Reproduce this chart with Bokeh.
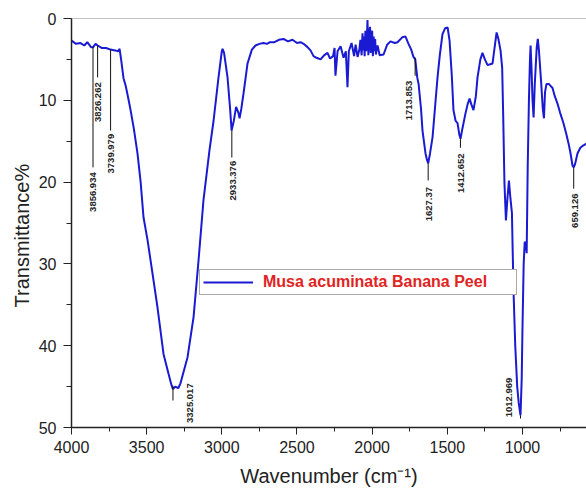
import math
from bokeh.plotting import figure
from bokeh.models import (Range1d, SingleIntervalTicker, Span, Title, Legend,
                          LegendItem, ColumnDataSource)
from bokeh.core.properties import value
from bokeh.embed import file_html
from bokeh.resources import INLINE

# ---- spectrum (wavenumber cm-1, transmittance %) ----
wavenumber = [
    4000, 3970, 3940, 3915, 3895, 3870, 3856, 3840, 3826, 3800, 3770, 3740, 3710,
    3690, 3680, 3670, 3654, 3640, 3625, 3607, 3585, 3561, 3540, 3521, 3494, 3461,
    3428, 3388, 3355, 3335, 3325, 3310, 3290, 3275, 3228, 3188, 3155, 3122, 3082,
    3055, 3022, 3000, 2995, 2985, 2962, 2945, 2935, 2920, 2905, 2890, 2882, 2870,
    2856, 2840, 2829, 2800, 2776, 2750, 2723, 2700, 2680, 2650, 2620, 2590, 2560,
    2530, 2500, 2476, 2456, 2430, 2410, 2390, 2370, 2343, 2320, 2297, 2280, 2260,
    2250, 2244, 2230, 2210, 2190, 2175, 2164, 2155, 2137, 2120, 2110, 2097, 2085,
    2078, 2070, 2064, 2060, 2055, 2050, 2045, 2040, 2035, 2031, 2025, 2021, 2018,
    2014, 2010, 2005, 2000, 1995, 1990, 1985, 1980, 1975, 1970, 1964,
    1950, 1924, 1900, 1878, 1850, 1831, 1800, 1778, 1765, 1758, 1740, 1725, 1713,
    1700, 1691, 1675, 1665, 1645, 1635, 1627, 1615, 1598, 1580, 1565, 1550, 1532,
    1515, 1498, 1485, 1470, 1459, 1445, 1432, 1420, 1412, 1400, 1379, 1365, 1352,
    1340, 1326, 1310, 1299, 1280, 1266, 1250, 1232, 1215, 1199, 1185, 1172, 1160,
    1146, 1135, 1128, 1120, 1110, 1100, 1090, 1080, 1070, 1060, 1048, 1035, 1025,
    1013, 1005, 1000, 992, 985, 978, 972, 965, 957, 950, 946, 940, 933, 926, 918,
    905, 898, 890, 875, 865, 857, 850, 840, 825, 810, 800, 785, 767, 750, 727, 710,
    693, 680, 667, 659, 650, 634, 615, 594, 574,
]
transmittance = [
    2.7, 3.1, 3.0, 3.3, 2.9, 3.5, 3.5, 3.1, 3.3, 3.6, 3.6, 3.8, 3.9,
    4.0, 3.7, 5.0, 7.3, 8.2, 9.5, 11.2, 13.5, 16.5, 20.0, 24.3, 27.1, 31.2,
    35.3, 41.0, 43.4, 44.8, 45.3, 45.0, 45.2, 44.6, 41.4, 36.5, 29.6, 22.2, 16.1,
    12.5, 7.2, 4.0, 3.7, 4.2, 7.2, 11.0, 13.7, 12.5, 10.8, 11.5, 12.2, 11.0,
    9.2, 7.0, 5.5, 3.8, 3.3, 3.1, 3.0, 3.1, 2.9, 2.9, 2.6, 2.5, 2.8,
    2.6, 3.0, 2.9, 3.1, 3.5, 3.9, 4.6, 4.8, 5.0, 4.5, 4.2, 4.9, 4.6,
    3.6, 7.0, 4.0, 3.4, 4.8, 4.0, 8.4, 4.0, 3.0, 4.6, 3.2, 4.7, 3.8,
    2.6, 4.5, 1.8, 3.9, 2.2, 4.6, 1.5, 4.0, 2.4, 0.2, 4.5, 1.2, 3.6,
    1.0, 4.2, 2.0, 1.5, 4.6, 2.2, 4.0, 2.5, 4.4, 3.8, 3.3,
    4.5, 4.4, 3.2, 2.8, 3.0, 2.9, 2.3, 2.2, 2.8, 3.1, 3.8, 4.7, 5.0,
    7.2, 8.0, 11.0, 13.7, 16.5, 17.3, 17.7, 16.5, 14.5, 10.5, 7.2, 4.5, 1.9,
    1.2, 1.1, 2.7, 7.0, 11.2, 12.5, 12.8, 14.2, 14.7, 13.5, 11.6, 10.5, 9.8,
    10.5, 11.2, 9.5, 7.2, 5.0, 4.2, 5.0, 5.7, 5.6, 5.5, 3.5, 1.7, 2.5,
    3.9, 6.0, 12.0, 20.0, 24.7, 22.0, 19.8, 22.0, 23.8, 33.0, 40.0, 45.0, 47.0,
    48.5, 44.0, 38.0, 30.0, 27.3, 27.5, 28.7, 18.0, 10.0, 5.0, 3.3, 6.0, 10.0, 12.1, 8.0,
    3.5, 2.5, 4.0, 8.0, 11.0, 12.2, 9.0, 8.0, 8.0, 8.3, 8.5, 9.5, 10.4, 11.5, 12.8, 14.0,
    15.3, 16.5, 18.0, 18.2, 17.8, 16.5, 15.8, 15.5, 15.3,
]

# ---- labelled peaks ----
peak_wn = [3856.934, 3826.262, 3739.979, 3325.017, 2933.376,
           1713.853, 1627.37, 1412.652, 1012.969, 659.126]
peak_text = ["3856.934", "3826.262", "3739.979", "3325.017", "2933.376",
             "1713.853", "1627.37", "1412.652", "1012.969", "659.126"]
peak_T = [3.5, 3.3, 3.8, 44.9, 13.7, 4.8, 17.7, 14.7, 48.5, 18.2]

# layout of the peak marks (not data)
mark_end = [18.2, 7.2, 13.7, 46.7, 17.0, 7.0, 19.8, 15.8, 48.9, 20.8]
text_top = [18.8, 7.8, 14.1, 44.6, 17.4, 7.6, 20.6, 16.5, 43.9, 21.4]
text_dx = [0, 0, 0, 17, 1, -6, 1, 1, -12, 1]

series_name = "Musa acuminata Banana Peel"
FONT = "Liberation Sans"

p = figure(width=586, height=491, x_range=Range1d(4000, 574), y_range=Range1d(50, 0),
           output_backend="svg", toolbar_location=None,
           min_border_left=71, min_border_right=0, min_border_top=18, min_border_bottom=64)
p.outline_line_color = None
p.grid.visible = False
p.background_fill_color = "white"
p.border_fill_color = "white"

r = p.line(wavenumber, transmittance, line_color="#1a1ad2", line_width=2)

src = ColumnDataSource(dict(x=peak_wn, y0=peak_T, y1=mark_end, ty=text_top,
                            t=peak_text, dx=text_dx))
p.segment(x0="x", y0="y0", x1="x", y1="y1", source=src, line_color="#111", line_width=1)
p.text(x="x", y="ty", text="t", x_offset="dx", source=src, angle=math.pi / 2,
       text_align="right", text_baseline="middle", text_font=value(FONT),
       text_font_size="9.5px", text_font_style="bold", text_color="#222")

p.add_layout(Span(location=0, dimension="width", line_color="#888", line_width=1))

for ax in (p.xaxis, p.yaxis):
    ax.axis_line_color = "#222"
    ax.axis_line_width = 1.5
    ax.major_tick_line_color = "#222"
    ax.minor_tick_line_color = "#222"
    ax.major_tick_in = 0
    ax.minor_tick_in = 0
    ax.major_label_text_font = FONT
    ax.major_label_text_font_size = "16px"
    ax.major_label_text_color = "#222"

p.xaxis.ticker = SingleIntervalTicker(interval=500, num_minor_ticks=2)
p.yaxis.ticker = SingleIntervalTicker(interval=10, num_minor_ticks=2)
p.xaxis.major_tick_out = 7
p.xaxis.minor_tick_out = 4
p.yaxis.major_tick_out = 8
p.yaxis.minor_tick_out = 5
p.xaxis.major_label_standoff = 6
p.yaxis.major_label_standoff = 7

p.xaxis.axis_label = "Wavenumber (cm\u207b\u00b9)"
p.xaxis.axis_label_text_font = FONT
p.xaxis.axis_label_text_font_size = "20px"
p.xaxis.axis_label_text_font_style = "normal"
p.xaxis.axis_label_text_color = "#222"
p.xaxis.axis_label_standoff = 9

ytitle = Title(text="Transmittance%", align="left", vertical_align="middle",
               offset=120, standoff=4, text_font=FONT, text_font_size="20px",
               text_font_style="normal", text_color="#222")
p.add_layout(ytitle, "left")

legend = Legend(items=[LegendItem(label=series_name, renderers=[r])],
                location=(128, 132), padding=3, margin=0, spacing=0,
                glyph_width=50, glyph_height=16, label_standoff=10,
                label_width=250, label_height=16,
                label_text_font=FONT, label_text_font_size="16px",
                label_text_font_style="bold", label_text_color="#e02424",
                border_line_color="#555", border_line_width=1,
                background_fill_color="white", background_fill_alpha=1)
p.add_layout(legend)

open("out.html", "w").write(file_html(p, INLINE))
